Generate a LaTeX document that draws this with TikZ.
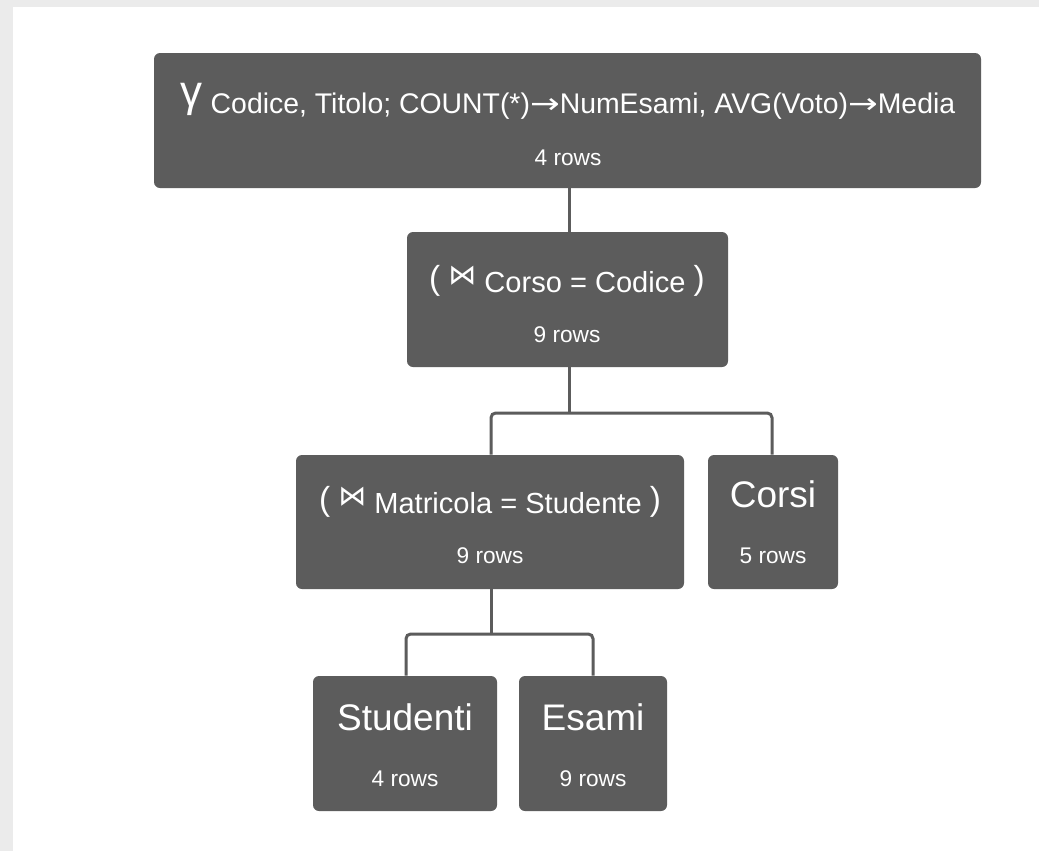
\documentclass[tikz,border=0pt]{standalone}
\usepackage{fontspec}
\setmainfont{Liberation Sans}
\newfontfamily\djv{DejaVu Sans}
\usetikzlibrary{fit}
\definecolor{boxgrey}{HTML}{5C5C5C}
\definecolor{linegrey}{HTML}{5C5C5C}
\definecolor{bggrey}{HTML}{EBEBEB}
\newcommand{\fsz}[1]{\fontsize{#1}{#1}\selectfont}
\newcommand{\myarr}{{\djv\scalebox{1.25}[1]{→}}}
\newcommand{\bowpart}[1]{{\fsz{25pt}\raisebox{2pt}{(}}\ {\djv\fsz{21pt}\raisebox{6pt}{⋈}}\ #1\ {\fsz{25pt}\raisebox{2pt}{)}}}
\begin{document}
\begin{tikzpicture}[x=0.75pt,y=-0.75pt,
  opbox/.style={draw=none, fill=boxgrey, rounded corners=4.5pt, inner sep=0pt},
  headtxt/.style={text=white, anchor=base, inner sep=0pt, font=\fsz{21.8pt}},
  bigtxt/.style={text=white, anchor=base, inner sep=0pt, font=\fsz{27.75pt}},
  rowtxt/.style={text=white, anchor=base, inner sep=0pt, font=\fsz{17pt}},
  conn/.style={draw=linegrey, line width=2.25pt, rounded corners=3.5pt}]
\useasboundingbox (0,0) rectangle (1039,851);
\fill[bggrey] (0,0) rectangle (1039,851);
\fill[white] (13,7) rectangle (1039,851);
% boxes
\node[opbox, fit={(154,53) (981,188)}] (g) {};
\node[opbox, fit={(407,232) (728,367)}] (j1) {};
\node[opbox, fit={(296,455) (684,589)}] (j2) {};
\node[opbox, fit={(708,455) (838,589)}] (corsi) {};
\node[opbox, fit={(313,676) (497,811)}] (stud) {};
\node[opbox, fit={(519,676) (667,811)}] (esami) {};
% texts
\node[headtxt, font=\fsz{21.3pt}] (gt) at (568,113) {{\fsz{33pt}\raisebox{5pt}{γ}}\ Codice, Titolo; COUNT(*)\myarr NumEsami, AVG(Voto)\myarr Media};
\node[rowtxt] (gr) at (568,165) {4 rows};
\node[headtxt] (j1t) at (567,292) {\bowpart{Corso = Codice}};
\node[rowtxt] (j1r) at (567,342) {9 rows};
\node[headtxt] (j2t) at (490,513) {\bowpart{Matricola = Studente}};
\node[rowtxt] (j2r) at (490,563) {9 rows};
\node[bigtxt] (ct) at (773,507) {Corsi};
\node[rowtxt] (cr) at (773,563) {5 rows};
\node[bigtxt] (st) at (405,730) {Studenti};
\node[rowtxt] (sr) at (405,786) {4 rows};
\node[bigtxt] (et) at (593,730) {Esami};
\node[rowtxt] (er) at (593,786) {9 rows};
% connectors
\coordinate (b1) at (569,413);
\coordinate (b2) at (491,634);
\draw[conn] (g.south -| 569,0) -- (j1.north -| 569,0);
\draw[conn] (j1.south -| 569,0) -- (b1);
\draw[conn] (j2.north -| 491,0) |- (b1) -| (corsi.north -| 772,0);
\draw[conn] (j2.south -| 491,0) -- (b2);
\draw[conn] (stud.north -| 406,0) |- (b2) -| (esami.north -| 593,0);
\end{tikzpicture}
\end{document}
